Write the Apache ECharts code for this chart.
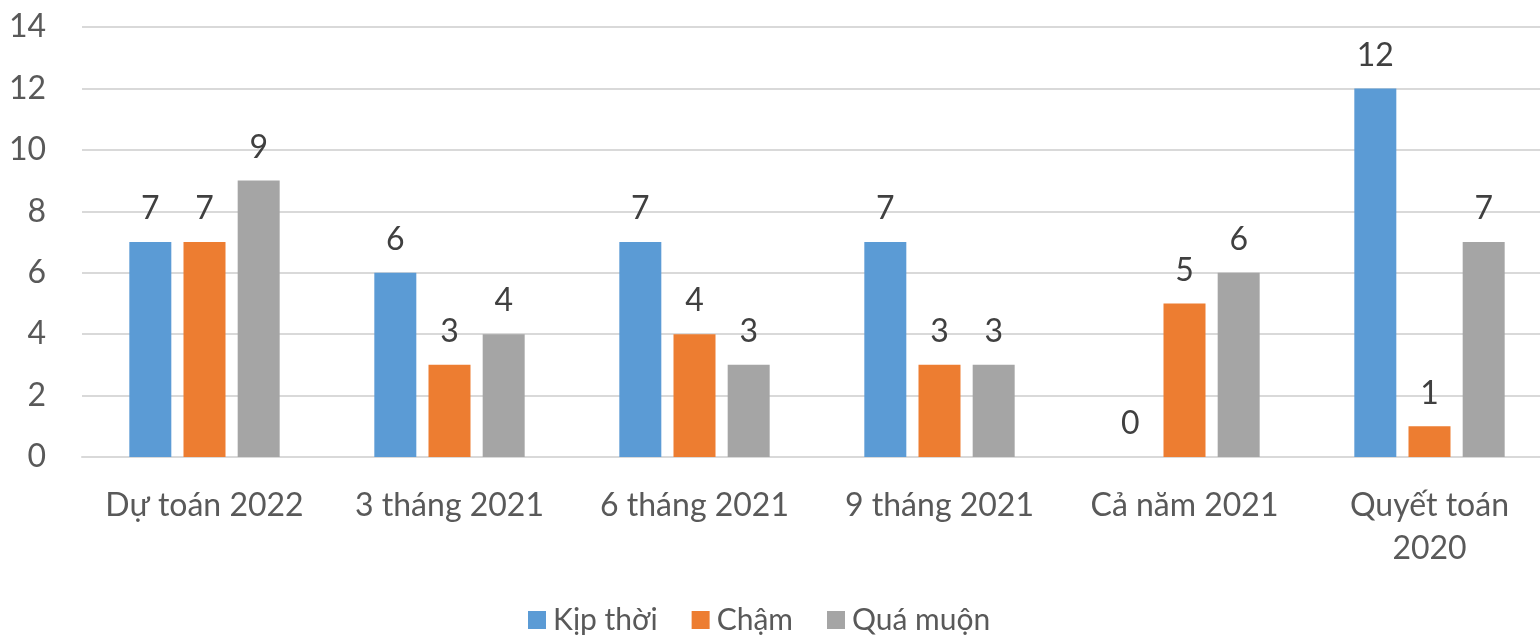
<!DOCTYPE html>
<html>
<head>
<meta charset="utf-8">
<script src="https://cdn.jsdelivr.net/npm/echarts@6/dist/echarts.min.js"></script>
<style>
  html, body { margin: 0; padding: 0; background: #fff; }
  #chart { width: 1540px; height: 636px; }
</style>
</head>
<body>
<div id="chart"></div>
<script>
var categories = ['Dự toán 2022', '3 tháng 2021', '6 tháng 2021', '9 tháng 2021', 'Cả năm 2021', 'Quyết toán 2020'];
var kipThoi = [7, 6, 7, 7, 0, 12];
var cham = [7, 3, 4, 3, 5, 1];
var quaMuon = [9, 4, 3, 3, 6, 7];

var font = 'Lato';
var txtSize = 32;

var myChart = echarts.init(document.getElementById('chart'));

function barSeries(name, data, color) {
    return {
        name: name,
        type: 'bar',
        data: data,
        barWidth: 42,
        barGap: '29%',
        itemStyle: { color: color },
        label: {
            show: true,
            position: 'top',
            distance: 17,
            color: '#404040',
            fontFamily: font,
            fontSize: txtSize
        }
    };
}

// long category names wrap onto two lines, like in the original
function wrapLabel(value) {
    if (value.length <= 13) return value;
    var i = value.lastIndexOf(' ');
    return value.slice(0, i) + '\n' + value.slice(i + 1);
}

var option = {
    animation: false,
    textStyle: { fontFamily: font },
    grid: { left: 82, top: 27, width: 1470, height: 430, containLabel: false, outerBoundsMode: 'none' },
    legend: {
        left: 523,
        top: 600,
        itemWidth: 18,
        itemHeight: 18,
        itemGap: 34,
        icon: 'rect',
        textStyle: { color: '#595959', fontSize: 30, fontFamily: font, padding: [0, 0, 0, 2] },
        data: ['Kịp thời', 'Chậm', 'Quá muộn']
    },
    xAxis: {
        type: 'category',
        data: categories,
        axisLine: { lineStyle: { color: '#d9d9d9', width: 2 } },
        axisTick: { show: false },
        axisLabel: {
            color: '#595959',
            fontSize: txtSize,
            fontFamily: font,
            margin: 27,
            lineHeight: 43,
            interval: 0,
            formatter: wrapLabel
        }
    },
    yAxis: {
        type: 'value',
        min: 0,
        max: 14,
        interval: 2,
        axisLine: { show: false },
        axisTick: { show: false },
        splitLine: { lineStyle: { color: '#d9d9d9', width: 2 } },
        axisLabel: { color: '#595959', fontSize: txtSize, fontFamily: font, margin: 36 }
    },
    series: [
        barSeries('Kịp thời', kipThoi, '#5b9bd5'),
        barSeries('Chậm', cham, '#ed7d31'),
        barSeries('Quá muộn', quaMuon, '#a5a5a5')
    ]
};

myChart.setOption(option);
</script>
</body>
</html>
